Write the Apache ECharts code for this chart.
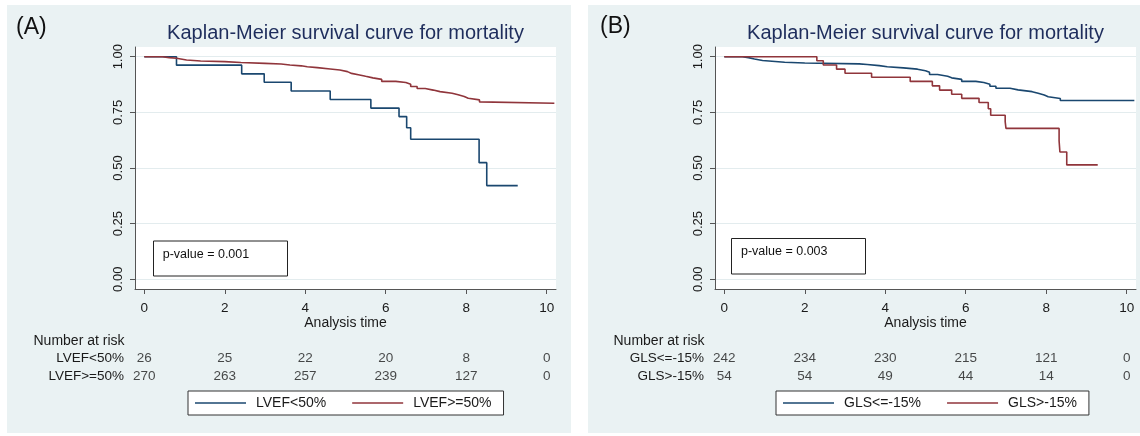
<!DOCTYPE html>
<html><head><meta charset="utf-8">
<script src="https://cdn.jsdelivr.net/npm/echarts@6/dist/echarts.min.js"></script>
<style>html,body{margin:0;padding:0;background:#fff}#c{width:1140px;height:436px}</style>
</head><body><div id="c"></div>
<script>
// ---- data ----
const timeTicks = [0, 2, 4, 6, 8, 10];
const survTicks = [0, 0.25, 0.5, 0.75, 1];

// Panel A: LVEF groups  [time, survival]
const kmA_low = [[0,1],[0.80,0.962],[2.42,0.923],[2.98,0.885],[3.65,0.846],[4.62,0.808],[5.63,0.769],[6.33,0.731],[6.52,0.681],[6.62,0.629],[8.32,0.524],[8.51,0.421],[9.28,0.421]];
const kmA_high = [[0,1],[0.45,0.996],[0.62,0.993],[0.80,0.985],[1.05,0.981],[1.40,0.978],[2.00,0.974],[2.40,0.970],[3.00,0.967],[3.40,0.963],[3.62,0.959],[3.90,0.955],[4.05,0.951],[4.30,0.945],[4.62,0.940],[4.86,0.933],[5.05,0.925],[5.15,0.918],[5.35,0.912],[5.50,0.905],[5.68,0.898],[5.90,0.889],[6.25,0.884],[6.50,0.876],[6.62,0.866],[6.78,0.857],[6.98,0.850],[7.18,0.843],[7.35,0.836],[7.65,0.829],[7.80,0.821],[7.95,0.813],[8.05,0.806],[8.33,0.797],[8.36,0.791],[10.19,0.791]];

// Panel B: GLS groups
const kmB_good = [[0,1],[0.45,0.996],[0.60,0.990],[0.75,0.983],[0.95,0.975],[1.50,0.972],[2.00,0.968],[3.35,0.965],[3.55,0.960],[3.85,0.955],[4.05,0.950],[4.45,0.944],[4.80,0.937],[5.00,0.930],[5.10,0.920],[5.30,0.912],[5.55,0.905],[5.65,0.898],[5.90,0.889],[6.25,0.884],[6.45,0.876],[6.60,0.867],[6.75,0.858],[7.10,0.851],[7.30,0.843],[7.65,0.836],[7.80,0.828],[7.95,0.820],[8.05,0.812],[8.35,0.803],[10.19,0.803]];
const kmB_bad = [[0,1],[2.30,0.982],[2.46,0.963],[2.79,0.944],[3.00,0.926],[3.66,0.908],[4.62,0.889],[5.17,0.869],[5.35,0.850],[5.65,0.831],[5.90,0.813],[6.33,0.794],[6.56,0.766],[6.62,0.737],[6.98,0.708],[7.00,0.678],[8.32,0.622],[8.34,0.572],[8.51,0.514],[9.28,0.514]];

// Number at risk
const riskRowsA = ['LVEF<50%', 'LVEF>=50%'];
const riskA_low = [26, 25, 22, 20, 8, 0];
const riskA_high = [270, 263, 257, 239, 127, 0];
const riskRowsB = ['GLS<=-15%', 'GLS>-15%'];
const riskB_good = [242, 234, 230, 215, 121, 0];
const riskB_bad = [54, 54, 49, 44, 14, 0];

const titleText = 'Kaplan-Meier survival curve for mortality';
const pA = 'p-value = 0.001', pB = 'p-value = 0.003';

// ---- styling ----
const FONT = 'Liberation Sans, Arial, sans-serif';
const BLUE = '#1a476f', RED = '#90353b', PANEL = '#eaf2f3', AX = '#555', TXT = '#1a1a1a';
const XMIN = -0.231, XMAX = 10.231, YMIN = -0.0436, YMAX = 1.0436;
const LINE_ICON = 'path://M0,0H51V1.6H0Z';

function plotX(g) {
  return { type:'value', gridIndex:g, min:XMIN, max:XMAX,
    axisLine:{show:true, onZero:false, lineStyle:{color:AX, width:1}},
    axisTick:{show:true, length:5, customValues:timeTicks, lineStyle:{color:AX}},
    axisLabel:{customValues:timeTicks, fontSize:13.5, color:TXT, margin:12, fontFamily:FONT},
    splitLine:{show:false},
    name:'Analysis time', nameLocation:'middle', nameGap:27, nameMoveOverlap:false,
    nameTextStyle:{fontSize:14, color:TXT, fontFamily:FONT} };
}
function plotY(g) {
  return { type:'value', gridIndex:g, min:YMIN, max:YMAX,
    axisLine:{show:true, onZero:false, lineStyle:{color:AX, width:1}},
    axisTick:{show:true, length:5, customValues:survTicks, lineStyle:{color:AX}},
    axisLabel:{customValues:survTicks, rotate:90, fontSize:13, color:TXT, margin:10, fontFamily:FONT,
      formatter:v=>Number(v).toFixed(2)},
    splitLine:{show:true, lineStyle:{color:'#e3ecee', width:1}} };
}
function riskX(g) { return { type:'value', gridIndex:g, min:XMIN, max:XMAX, show:false }; }
function riskY(g, rows) {
  return { type:'category', gridIndex:g, data:rows, inverse:true,
    axisLine:{show:false}, axisTick:{show:false}, splitLine:{show:false},
    axisLabel:{interval:0, fontSize:13.5, color:TXT, margin:11, fontFamily:FONT} };
}
function km(name, data, color, g) {
  return { type:'line', name, data, step:'end', symbol:'none', xAxisIndex:g, yAxisIndex:g,
    lineStyle:{color, width:1.6}, itemStyle:{color}, silent:true, z:3 };
}
function risk(vals, row, g) {
  return { type:'scatter', data: timeTicks.map((t,i)=>[t,row,vals[i]]), xAxisIndex:g, yAxisIndex:g,
    symbolSize:1, itemStyle:{color:'rgba(0,0,0,0)'}, silent:true,
    label:{show:true, position:'inside', formatter:p=>String(p.value[2]), fontSize:13.5, color:TXT, fontFamily:FONT} };
}
function legend(names, left) {
  return { data:names.map(n=>({name:n, icon:LINE_ICON})), left, top:391, orient:'horizontal',
    itemWidth:51, itemHeight:14, itemGap:26,
    padding:[5,12,5,7], backgroundColor:'#fff', borderColor:'#333', borderWidth:1, borderRadius:0,
    selectedMode:false, textStyle:{fontSize:14, color:TXT, fontFamily:FONT, padding:[0,0,0,5]} };
}
function txt(x, y, text, size, fill, align) {
  return { type:'text', x, y, z:20, silent:true,
    style:{text, fontSize:size, fontFamily:FONT, fill, align:align||'left', verticalAlign:'middle'} };
}

const chart = echarts.init(document.getElementById('c'), null, {renderer:'canvas'});
chart.setOption({
  animation:false,
  textStyle:{fontFamily:FONT},
  grid:[
    {left:135, top:47, width:421, height:242, show:true, backgroundColor:'#fff', borderWidth:0},
    {left:715, top:47, width:421, height:242, show:true, backgroundColor:'#fff', borderWidth:0},
    {left:135, top:350, width:421, height:35},
    {left:715, top:350, width:421, height:35}
  ],
  xAxis:[plotX(0), plotX(1), riskX(2), riskX(3)],
  yAxis:[plotY(0), plotY(1), riskY(2, riskRowsA), riskY(3, riskRowsB)],
  legend:[legend(['LVEF<50%','LVEF>=50%'], 188), legend(['GLS<=-15%','GLS>-15%'], 776)],
  series:[
    km('LVEF<50%', kmA_low, BLUE, 0),
    km('LVEF>=50%', kmA_high, RED, 0),
    km('GLS<=-15%', kmB_good, BLUE, 1),
    km('GLS>-15%', kmB_bad, RED, 1),
    risk(riskA_low, 0, 2), risk(riskA_high, 1, 2),
    risk(riskB_good, 0, 3), risk(riskB_bad, 1, 3)
  ],
  graphic:{elements:[
    {type:'rect', z:-10, silent:true, shape:{x:7, y:5, width:564, height:428}, style:{fill:PANEL}},
    {type:'rect', z:-10, silent:true, shape:{x:588, y:5, width:552, height:428}, style:{fill:PANEL}},
    txt(16, 28, '(A)', 23, '#111'),
    txt(600, 27, '(B)', 23, '#111'),
    txt(345.5, 33, titleText, 20, '#1e2d5c', 'center'),
    txt(925.5, 33, titleText, 20, '#1e2d5c', 'center'),
    txt(33.5, 341, 'Number at risk', 14, TXT),
    txt(613.5, 341, 'Number at risk', 14, TXT),
    {type:'rect', z:10, silent:true, shape:{x:153.5, y:241, width:134, height:35}, style:{fill:'#fff', stroke:'#222', lineWidth:1}},
    txt(162.7, 255, pA, 12.5, '#111'),
    {type:'rect', z:10, silent:true, shape:{x:731.5, y:238.5, width:134, height:35.5}, style:{fill:'#fff', stroke:'#222', lineWidth:1}},
    txt(741, 252, pB, 12.5, '#111')
  ]}
});
</script></body></html>
